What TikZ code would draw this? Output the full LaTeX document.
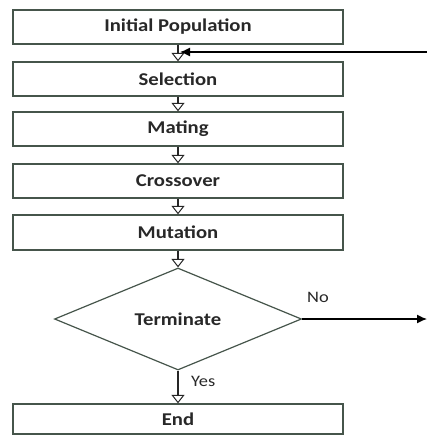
\documentclass[tikz,border=0pt]{standalone}
\usepackage{fontspec}
\setmainfont{Carlito}
\usetikzlibrary{arrows.meta,shapes.geometric}
\definecolor{boxline}{RGB}{70,85,75}
\definecolor{txt}{RGB}{40,40,40}
\newcommand{\wtxt}[1]{\scalebox{1.15}[1]{#1}}
\begin{document}
\begin{tikzpicture}[x=1pt,y=-1pt,
  stepbox/.style={draw=boxline, line width=1.3pt, fill=white, minimum width=330pt,
    minimum height=34pt, inner sep=0pt, font=\fontsize{18}{18}\selectfont\bfseries, text=txt},
  decision/.style={draw=boxline, line width=1.2pt, fill=white, shape=diamond,
    minimum width=247pt, minimum height=102pt, inner sep=0pt,
    font=\fontsize{18}{18}\selectfont\bfseries, text=txt},
  flow/.style={draw=black!85, line width=1.1pt,
    -{Triangle[open, width=13pt, length=8.5pt, line width=1pt]}},
  loopline/.style={draw=black, line width=1.3pt, -{Latex[length=10pt, width=9pt]}},
  lbl/.style={font=\fontsize{16}{16}\selectfont, text=txt, inner sep=0pt}
]
\useasboundingbox (0,0) rectangle (427,436);
\fill[white] (0,0) rectangle (427,436);

\node[stepbox] (init) at (178,27) {\wtxt{Initial Population}};
\node[stepbox] (sel) at (178,79) {\wtxt{Selection}};
\node[stepbox] (mat) at (178,129) {\wtxt{Mating}};
\node[stepbox, minimum height=34pt] (cro) at (178,181) {\wtxt{Crossover}};
\node[stepbox, minimum height=35pt] (mut) at (178,232.5) {\wtxt{Mutation}};
\node[decision] (term) at (178,319) {\wtxt{Terminate}};
\node[stepbox, minimum height=30pt] (end) at (178,419) {\wtxt{End}};

\draw[flow] (init.south) -- (sel.north);
\draw[flow] (sel.south) -- (mat.north);
\draw[flow] (mat.south) -- (cro.north);
\draw[flow] (cro.south) -- (mut.north);
\draw[flow] (mut.south) -- (term.north);
\draw[flow] (term.south) -- (end.north);

\coordinate (fbstart) at (427,52);
\coordinate (noend) at (427,319);
\draw[loopline] (fbstart) -- ([xshift=2pt]fbstart -| init.south);
\draw[loopline] (term.east) -- (noend);

\node[lbl] (no) at (318,297) {\wtxt{No}};
\node[lbl, anchor=west] (yes) at (191,381) {\wtxt{Yes}};
\end{tikzpicture}
\end{document}
